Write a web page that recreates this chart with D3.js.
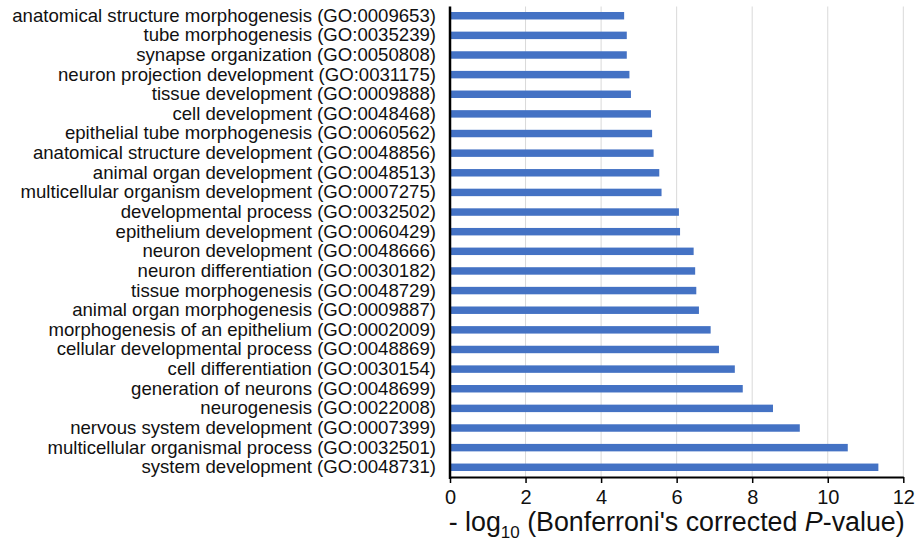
<!DOCTYPE html>
<html><head><meta charset="utf-8">
<script src="https://cdn.jsdelivr.net/npm/d3@7"></script>
<style>body{margin:0;background:#fff;} svg{display:block;}</style>
</head><body>
<svg id="chart" width="916" height="544"></svg>
<script>
const categories = [
  "anatomical structure morphogenesis (GO:0009653)",
  "tube morphogenesis (GO:0035239)",
  "synapse organization (GO:0050808)",
  "neuron projection development (GO:0031175)",
  "tissue development (GO:0009888)",
  "cell development (GO:0048468)",
  "epithelial tube morphogenesis (GO:0060562)",
  "anatomical structure development (GO:0048856)",
  "animal organ development (GO:0048513)",
  "multicellular organism development (GO:0007275)",
  "developmental process (GO:0032502)",
  "epithelium development (GO:0060429)",
  "neuron development (GO:0048666)",
  "neuron differentiation (GO:0030182)",
  "tissue morphogenesis (GO:0048729)",
  "animal organ morphogenesis (GO:0009887)",
  "morphogenesis of an epithelium (GO:0002009)",
  "cellular developmental process (GO:0048869)",
  "cell differentiation (GO:0030154)",
  "generation of neurons (GO:0048699)",
  "neurogenesis (GO:0022008)",
  "nervous system development (GO:0007399)",
  "multicellular organismal process (GO:0032501)",
  "system development (GO:0048731)"
];
const values = [4.61, 4.68, 4.68, 4.75, 4.79, 5.32, 5.35, 5.39, 5.54, 5.60, 6.06, 6.09,
  6.45, 6.49, 6.52, 6.59, 6.90, 7.12, 7.54, 7.75, 8.55, 9.26, 10.53, 11.34];
const xTicks = [0, 2, 4, 6, 8, 10, 12];

const svg = d3.select("#chart");
const m = {left: 450, right: 12.7, top: 6.5, bottom: 67};
const W = 916, H = 544;
const x = d3.scaleLinear().domain([0, 12]).range([m.left, W - m.right]);
const y = d3.scaleBand().domain(categories).range([m.top, H - m.bottom - 0.5]).paddingInner(0.62).paddingOuter(0.28);
const font = "'Liberation Sans', Arial, Helvetica, sans-serif";

// gridlines
svg.append("g").selectAll("line").data(xTicks.filter(d => d > 0)).join("line")
  .attr("x1", d => x(d)).attr("x2", d => x(d))
  .attr("y1", m.top).attr("y2", H - m.bottom)
  .attr("stroke", "#d9d9d9").attr("stroke-width", 1);

// bars
svg.append("g").selectAll("rect").data(values).join("rect")
  .attr("x", x(0))
  .attr("y", (d, i) => y(categories[i]))
  .attr("width", d => x(d) - x(0))
  .attr("height", y.bandwidth())
  .attr("fill", "#4472c4");

// x axis
const xAxis = svg.append("g").attr("transform", `translate(0,${H - m.bottom})`)
  .call(d3.axisBottom(x).tickValues(xTicks).tickSize(6).tickSizeOuter(0).tickPadding(7));
xAxis.select(".domain").attr("stroke", "#000").attr("stroke-width", 2);
xAxis.selectAll(".tick line").attr("stroke", "#000").attr("stroke-width", 1.5);
xAxis.selectAll(".tick text").attr("font-family", font).attr("font-size", 20).attr("fill", "#111");

// y axis
const yAxis = svg.append("g").attr("transform", `translate(${m.left},0)`)
  .call(d3.axisLeft(y).tickSize(0).tickPadding(14));
yAxis.select(".domain").attr("stroke", "#000").attr("stroke-width", 2.5)
  .attr("d", `M0,${m.top}V${H - m.bottom + 2}`);
yAxis.selectAll(".tick text").attr("font-family", font).attr("font-size", 18.6).attr("fill", "#111");

// axis title
const t = svg.append("text").attr("x", x(6)).attr("y", 531).attr("text-anchor", "middle")
  .attr("font-family", font).attr("font-size", 26.8).attr("fill", "#111");
t.append("tspan").text("- log");
t.append("tspan").attr("font-size", 17).attr("dy", 7).text("10");
t.append("tspan").attr("dy", -7).text(" (Bonferroni's corrected ");
t.append("tspan").attr("font-style", "italic").text("P");
t.append("tspan").text("-value)");
</script>
</body></html>
